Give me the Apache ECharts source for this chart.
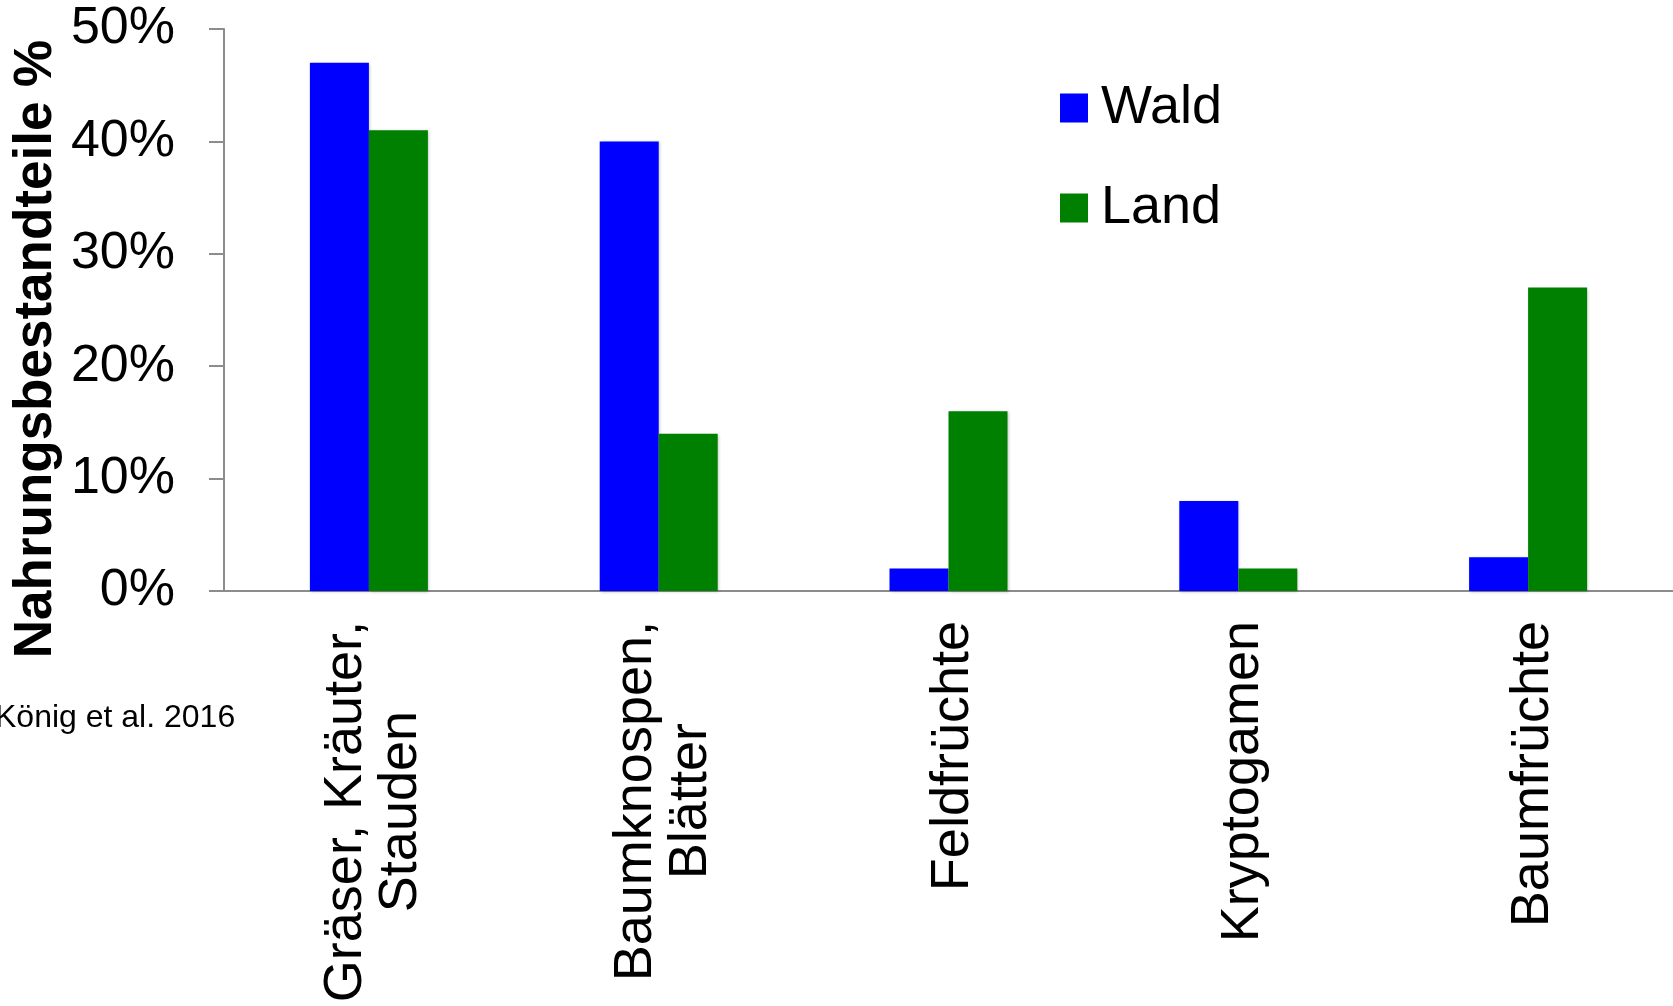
<!DOCTYPE html>
<html>
<head>
<meta charset="utf-8">
<title>Nahrungsbestandteile Wald / Land</title>
<script src="https://cdn.jsdelivr.net/npm/echarts@6/dist/echarts.min.js"></script>
<style>
  html, body { margin: 0; padding: 0; background: #ffffff; }
  #chart { width: 1673px; height: 1006px; }
</style>
</head>
<body>
<div id="chart"></div>
<script>
// Food components (share in %) of deer living in forest vs. open land
const categories = ['Gräser, Kräuter,\nStauden', 'Baumknospen,\nBlätter', 'Feldfrüchte', 'Kryptogamen', 'Baumfrüchte'];
const waldValues = [47, 40, 2, 8, 3];
const landValues = [41, 14, 16, 2, 27];
const seriesNames = ['Wald', 'Land'];
const yTicks = { min: 0, max: 50, step: 10 };
const yTitle = 'Nahrungsbestandteile %';
const sourceNote = 'König et al. 2016';

const FONT = '"Liberation Sans", Arial, Helvetica, sans-serif';
const AXIS_GRAY = '#8c8c8c';

const barShadow = {
  shadowBlur: 3,
  shadowColor: 'rgba(0,0,0,0.25)',
  shadowOffsetX: 1,
  shadowOffsetY: 1
};

const chart = echarts.init(document.getElementById('chart'), null, { renderer: 'canvas' });

chart.setOption({
  backgroundColor: '#ffffff',
  animation: false,
  textStyle: { fontFamily: FONT, color: '#000' },
  grid: { left: 224, right: -2, top: 29, bottom: 415, containLabel: false },
  legend: {
    orient: 'vertical',
    left: 1055,
    top: 75,
    icon: 'rect',
    itemWidth: 28,
    itemHeight: 29,
    itemGap: 44,
    data: seriesNames,
    textStyle: { fontFamily: FONT, fontSize: 54, color: '#000', lineHeight: 56, padding: [0, 0, 0, 8] }
  },
  xAxis: {
    type: 'category',
    data: categories,
    axisLine: { show: true, lineStyle: { color: AXIS_GRAY, width: 2 } },
    axisTick: { show: false },
    splitLine: { show: false },
    axisLabel: {
      interval: 0,
      rotate: 90,
      margin: 30,
      padding: [10, 0, 0, 0],
      formatter: function (v) {
        return v.split('\n').map(function (l) { return '{c|' + l + '}'; }).join('\n');
      },
      rich: {
        c: { fontFamily: FONT, fontSize: 54, color: '#000', align: 'center', lineHeight: 55 }
      }
    }
  },
  yAxis: {
    type: 'value',
    min: yTicks.min,
    max: yTicks.max,
    interval: yTicks.step,
    axisLine: { show: true, lineStyle: { color: AXIS_GRAY, width: 2 } },
    axisTick: { show: true, inside: false, length: 15, lineStyle: { color: AXIS_GRAY, width: 2 } },
    splitLine: { show: false },
    axisLabel: {
      margin: 49,
      fontFamily: FONT,
      fontSize: 52,
      color: '#000',
      formatter: '{value}%'
    }
  },
  series: [
    {
      name: seriesNames[0],
      type: 'bar',
      data: waldValues,
      barWidth: 59,
      barGap: '0%',
      itemStyle: Object.assign({ color: '#0000ff' }, barShadow)
    },
    {
      name: seriesNames[1],
      type: 'bar',
      data: landValues,
      barWidth: 59,
      barGap: '0%',
      itemStyle: Object.assign({ color: '#008000' }, barShadow)
    }
  ],
  graphic: [
    {
      type: 'text',
      x: 36,
      y: 349,
      rotation: Math.PI / 2,
      style: {
        text: yTitle,
        font: 'bold 53px ' + FONT,
        fill: '#000',
        textAlign: 'center',
        textVerticalAlign: 'middle'
      }
    },
    {
      type: 'text',
      x: -5,
      y: 718,
      style: {
        text: sourceNote,
        font: '32px ' + FONT,
        fill: '#000',
        textAlign: 'left',
        textVerticalAlign: 'middle'
      }
    }
  ]
});
</script>
</body>
</html>
